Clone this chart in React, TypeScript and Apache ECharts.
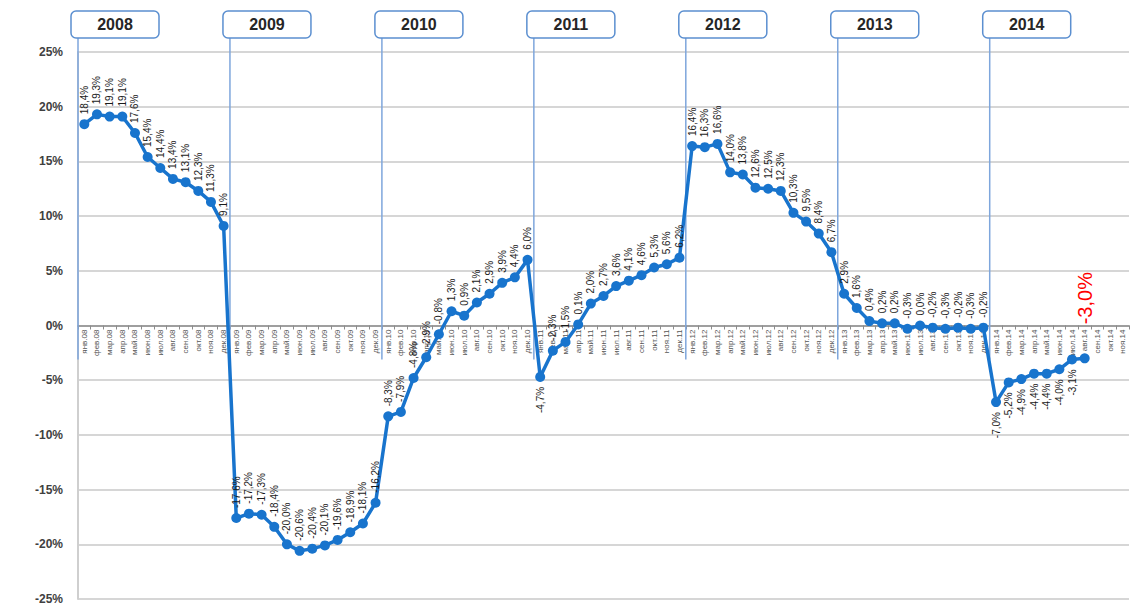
import React, { useEffect, useRef } from "react";
import * as echarts from "echarts";

const MONTHS = ["янв", "фев", "мар", "апр", "май", "июн", "июл", "авг", "сен", "окт", "ноя", "дек"];
const YEARS = ["2008", "2009", "2010", "2011", "2012", "2013", "2014"];

// Categories: янв.08 … ноя.14
const categories: string[] = [];
YEARS.forEach((y) => {
  MONTHS.forEach((m) => {
    categories.push(`${m}.${y.slice(2)}`);
  });
});
categories.splice(categories.length - 1, 1); // drop дек.14

const v2008 = [18.4, 19.3, 19.1, 19.1, 17.6, 15.4, 14.4, 13.4, 13.1, 12.3, 11.3, 9.1];
const v2009 = [-17.6, -17.2, -17.3, -18.4, -20.0, -20.6, -20.4, -20.1, -19.6, -18.9, -18.1, -16.2];
const v2010 = [-8.3, -7.9, -4.8, -2.9, -0.8, 1.3, 0.9, 2.1, 2.9, 3.9, 4.4, 6.0];
const v2011 = [-4.7, -2.3, -1.5, 0.1, 2.0, 2.7, 3.6, 4.1, 4.6, 5.3, 5.6, 6.2];
const v2012 = [16.4, 16.3, 16.6, 14.0, 13.8, 12.6, 12.5, 12.3, 10.3, 9.5, 8.4, 6.7];
const v2013 = [2.9, 1.6, 0.4, 0.2, 0.2, -0.3, 0.0, -0.2, -0.3, -0.2, -0.3, -0.2];
const v2014 = [-7.0, -5.2, -4.9, -4.4, -4.4, -4.0, -3.1, -3.0];

const values: number[] = [...v2008, ...v2009, ...v2010, ...v2011, ...v2012, ...v2013, ...v2014];

// Labels drawn below their point
const labelsBelow = ["янв.11", "янв.14", "фев.14", "мар.14", "апр.14", "май.14", "июн.14", "июл.14"];
const highlighted = "авг.14";

const yTicks = { min: -25, max: 25, interval: 5 };

const FONT = "'Liberation Sans', Arial, sans-serif";
const fmt = (v: number) => v.toFixed(1).replace(".", ",") + "%";

export default function App() {
  const ref = useRef<HTMLDivElement>(null);

  useEffect(() => {
    if (!ref.current) return;
    const chart = echarts.init(ref.current, null, { renderer: "svg" });

    const seriesData = values.map((v, i) => {
      const cat = categories[i];
      if (cat === highlighted) {
        return {
          value: v,
          label: {
            position: "top",
            align: "left",
            verticalAlign: "middle",
            distance: 29,
            color: "#ff0000",
            fontSize: 20,
          },
        };
      }
      if (labelsBelow.includes(cat)) {
        return {
          value: v,
          label: { position: "bottom", align: "right", verticalAlign: "middle", distance: 5 },
        };
      }
      return { value: v };
    });

    const gridTop = 52;
    const gridBottom = 7;

    chart.setOption({
      animation: false,
      backgroundColor: "#ffffff",
      grid: {
        left: 78,
        right: 2,
        top: gridTop,
        bottom: gridBottom,
        containLabel: false,
        outerBoundsMode: "none",
      },
      xAxis: {
        type: "category",
        data: categories,
        boundaryGap: true,
        position: "bottom",
        offset: 0,
        axisLine: { onZero: false, lineStyle: { color: "#8c8c8c", width: 1.5 } },
        axisTick: { show: true, interval: 0, length: 4, lineStyle: { color: "#8c8c8c" } },
        axisLabel: {
          interval: 0,
          rotate: 90,
          fontSize: 8,
          color: "#555555",
          margin: 4,
          fontFamily: FONT,
          hideOverlap: false,
        },
        splitLine: { show: false },
      },
      yAxis: {
        type: "value",
        min: yTicks.min,
        max: yTicks.max,
        interval: yTicks.interval,
        axisLine: { show: true, lineStyle: { color: "#cfcfcf", width: 2 } },
        axisTick: { show: false },
        axisLabel: {
          formatter: "{value}%",
          fontSize: 12,
          fontWeight: "bold",
          color: "#404040",
          margin: 15,
          fontFamily: FONT,
        },
        splitLine: { show: true, lineStyle: { color: "#d6d6d6", width: 2 } },
      },
      series: [
        {
          type: "line",
          data: seriesData,
          symbol: "circle",
          symbolSize: 10,
          showAllSymbol: true,
          lineStyle: { color: "#1874cd", width: 3.5 },
          itemStyle: { color: "#1874cd" },
          label: {
            show: true,
            position: "top",
            rotate: 90,
            align: "left",
            verticalAlign: "middle",
            distance: 5,
            fontSize: 10,
            color: "#1a1a1a",
            fontFamily: FONT,
            formatter: (p: any) => fmt(p.value),
          },
          z: 3,
        },
      ],
    });

    // Move the category axis up onto the zero line
    const zeroY = chart.convertToPixel({ yAxisIndex: 0 }, 0) as number;
    const bottomY = chart.convertToPixel({ yAxisIndex: 0 }, yTicks.min) as number;
    chart.setOption({ xAxis: { offset: -(bottomY - zeroY) } });

    // Year markers: vertical lines at year boundaries with labelled boxes
    const c0 = chart.convertToPixel({ xAxisIndex: 0 }, categories[0]) as number;
    const c1 = chart.convertToPixel({ xAxisIndex: 0 }, categories[1]) as number;
    const half = (c1 - c0) / 2;
    const yEnd = chart.convertToPixel({ yAxisIndex: 0 }, -3.1) as number;
    const graphics: any[] = [];
    YEARS.forEach((y) => {
      const cat = `янв.${y.slice(2)}`;
      const cx = (chart.convertToPixel({ xAxisIndex: 0 }, cat) as number) - half;
      graphics.push({
        type: "line",
        shape: { x1: cx, y1: 37, x2: cx, y2: yEnd },
        style: { stroke: "#7ea6dc", lineWidth: 1.5 },
        z: 1,
      });
      graphics.push({
        type: "rect",
        shape: { x: cx - 7, y: 11, width: 88, height: 27, r: 5 },
        style: { fill: "#ffffff", stroke: "#5b8fd0", lineWidth: 1.5 },
        z: 10,
      });
      graphics.push({
        type: "text",
        x: cx - 7 + 44,
        y: 24.5,
        style: {
          text: y,
          fill: "#262626",
          font: `bold 16px ${FONT}`,
          align: "center",
          verticalAlign: "middle",
        },
        z: 11,
      });
    });
    chart.setOption({ graphic: graphics });

    return () => chart.dispose();
  }, []);

  return <div ref={ref} style={{ width: 1131, height: 606, position: "absolute", left: 0, top: 0 }} />;
}
